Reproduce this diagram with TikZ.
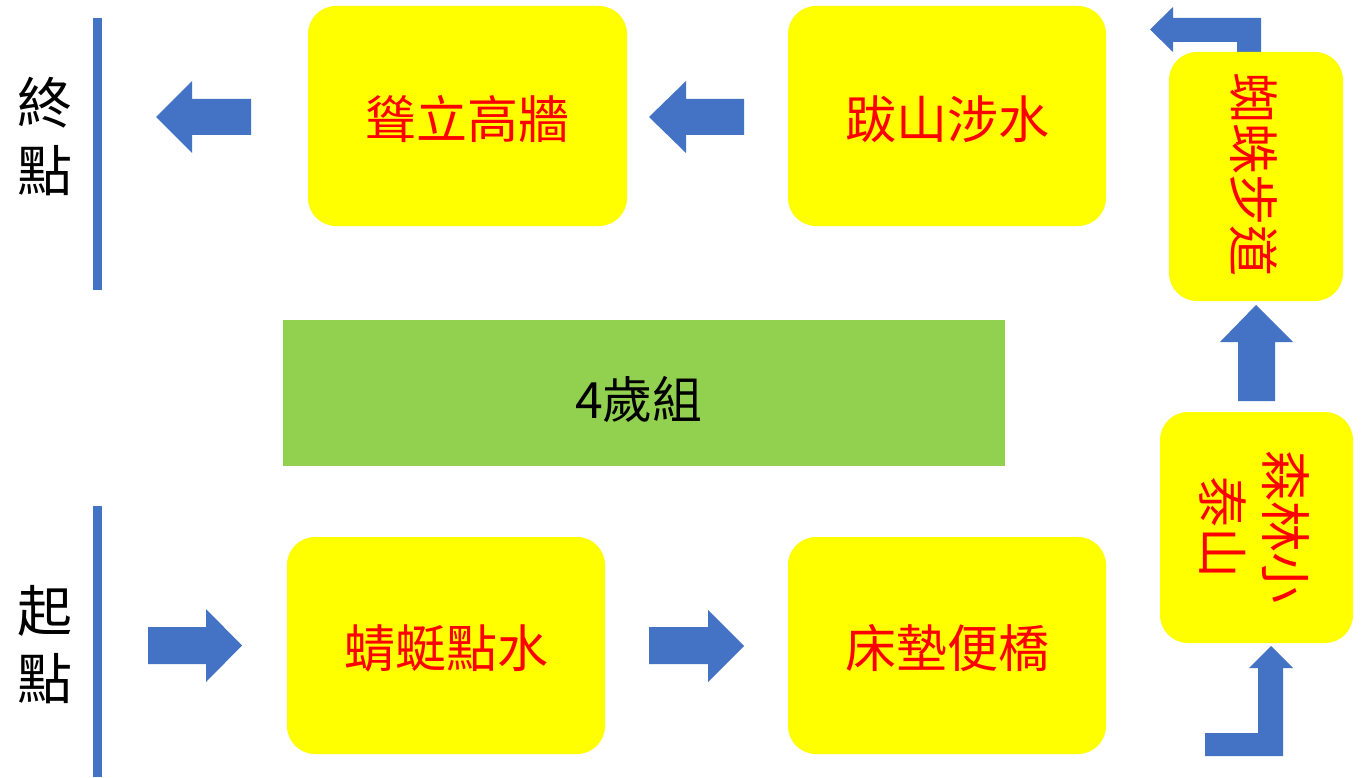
\documentclass[tikz,border=0pt]{standalone}
\usepackage{fontspec}
\newfontfamily\cjk{Noto Sans CJK TC}
\definecolor{arrowblue}{HTML}{4472C4}
\definecolor{boxyellow}{HTML}{FFFF00}
\definecolor{boxgreen}{HTML}{92D050}
\definecolor{txtred}{HTML}{FF0000}
\tikzset{
  ybox/.style={fill=boxyellow, rounded corners=28pt, inner sep=0pt, draw=none},
  ytext/.style={text=txtred, font=\cjk\fontsize{51}{63}\selectfont, inner sep=0pt, align=center},
  sidetext/.style={text=black, font=\cjk\fontsize{55}{68}\selectfont, inner sep=0pt, align=center},
  blockarrow/.style={fill=arrowblue, draw=none},
  barline/.style={draw=arrowblue, line width=9pt}
}
\begin{document}
\begin{tikzpicture}[x=1pt,y=-1pt]
\useasboundingbox[fill=white] (0,0) rectangle (1364,778);

% start / end bars
\coordinate (endtop) at (97.5,18);
\coordinate (endbot) at (97.5,290);
\coordinate (starttop) at (97.5,506);
\coordinate (startbot) at (97.5,777);
\draw[barline] (endtop) -- (endbot);
\draw[barline] (starttop) -- (startbot);
\node[sidetext] (endlbl) at (45,136) {終\\點};
\node[sidetext] (startlbl) at (45,645) {起\\點};

% bent arrow at top right (drawn before box so box covers its foot)
\fill[blockarrow] (1237,60) -- (1237,42) -- (1173,42) -- (1173,52) -- (1150,29.5)
  -- (1173,7) -- (1173,18) -- (1261,18) -- (1261,60) -- cycle;

% boxes
\node[ybox, minimum width=319pt, minimum height=220pt] (gaoqiang) at (467.5,116) {};
\node[ybox, minimum width=318pt, minimum height=220pt] (bashan) at (947,116) {};
\node[ybox, minimum width=174pt, minimum height=249pt] (zhizhu) at (1256,176.5) {};
\node[ybox, minimum width=193pt, minimum height=231pt] (senlin) at (1256.5,527.5) {};
\node[ybox, minimum width=318pt, minimum height=217pt] (qingting) at (446,645.5) {};
\node[ybox, minimum width=318pt, minimum height=217pt] (chuangdian) at (947,645.5) {};
\node[fill=boxgreen, minimum width=722pt, minimum height=146pt, inner sep=0pt] (group) at (644,393) {};

% texts
\node[ytext] (t1) at (467,119) {聳立高牆};
\node[ytext] (t2) at (947,119) {跋山涉水};
\node[ytext, rotate=-90] (t3) at (1254,175) {蜘蛛步道};
\node[ytext, rotate=-90] (t4) at (1254,527) {森林小\\泰山};
\node[ytext] (t5) at (446,648) {蜻蜓點水};
\node[ytext] (t6) at (947,648) {床墊便橋};
\node[text=black, font=\cjk\fontsize{50}{60}\selectfont, inner sep=0pt] (t7) at (639,399) {4歲組};

% block arrows
\fill[blockarrow] (251,99) -- (192,99) -- (192,81) -- (156,117) -- (192,153) -- (192,135) -- (251,135) -- cycle;
\fill[blockarrow] (744,99) -- (686,99) -- (686,81) -- (649,117) -- (686,153) -- (686,135) -- (744,135) -- cycle;
\fill[blockarrow] (148,627) -- (206,627) -- (206,609) -- (242,645.5) -- (206,682) -- (206,664) -- (148,664) -- cycle;
\fill[blockarrow] (649,627) -- (708,627) -- (708,610) -- (744,646) -- (708,682) -- (708,664) -- (649,664) -- cycle;
\fill[blockarrow] (1238,401) -- (1238,342) -- (1220,342) -- (1256,305) -- (1293,342) -- (1275,342) -- (1275,401) -- cycle;
\fill[blockarrow] (1205,733) -- (1258,733) -- (1258,668) -- (1249,668) -- (1271,646)
  -- (1293,668) -- (1283,668) -- (1283,756) -- (1205,756) -- cycle;
\end{tikzpicture}
\end{document}
